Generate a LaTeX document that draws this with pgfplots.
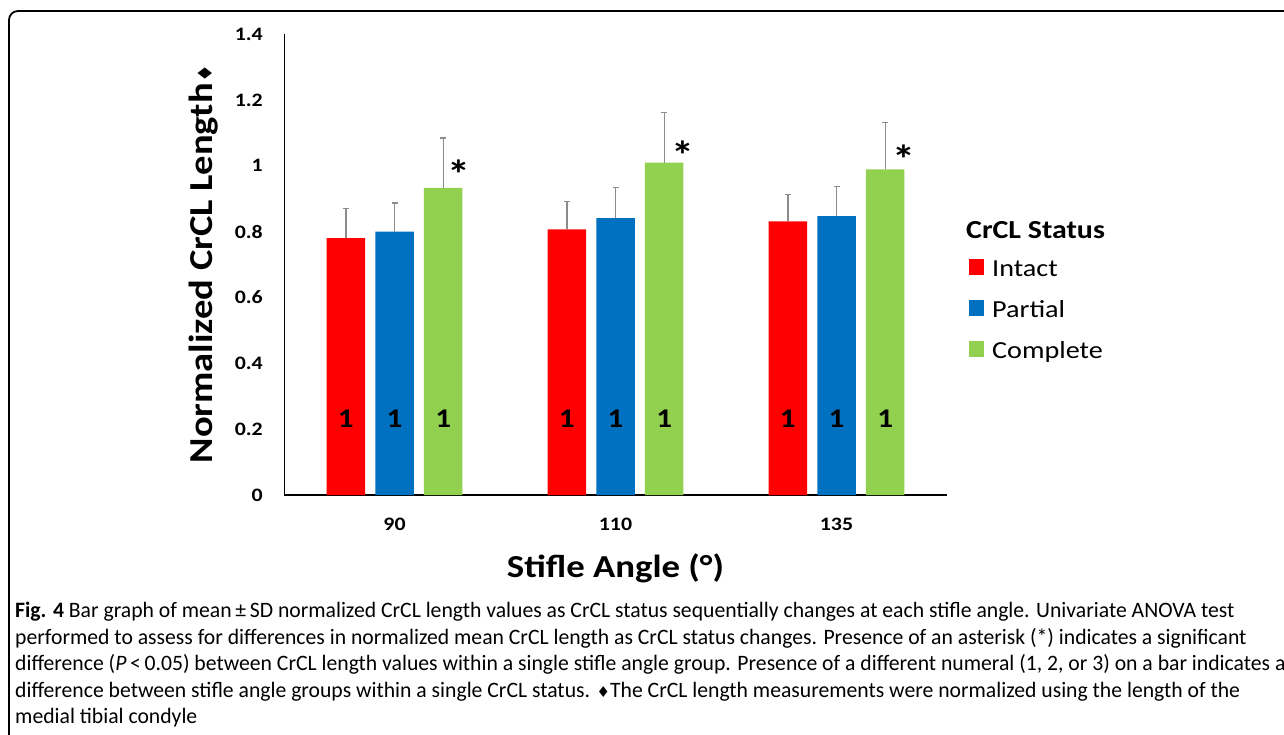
\documentclass[border=0pt]{standalone}
\usepackage{fontspec}
\setmainfont{Carlito}[FakeStretch=1.15]
\newfontfamily\capfont{Carlito}[FakeStretch=0.985]
\newfontfamily\symfont{DejaVu Sans}
\usepackage{pgfplots}
\usepackage{pgfplotstable}
\pgfplotsset{compat=1.18}
\definecolor{cred}{HTML}{FF0000}
\definecolor{cblue}{HTML}{0070C0}
\definecolor{cgreen}{HTML}{92D050}
\definecolor{errgray}{HTML}{8C8C8C}
\newcommand{\fs}[1]{\fontsize{#1}{#1}\selectfont}

\pgfplotstableread{
x y e
0 0.780 0.089
1 0.807 0.085
2 0.831 0.081
}\intact
\pgfplotstableread{
x y e
0 0.800 0.087
1 0.841 0.093
2 0.847 0.089
}\partial
\pgfplotstableread{
x y e
0 0.933 0.151
1 1.009 0.152
2 0.989 0.143
}\complete

\begin{document}
\begin{tikzpicture}[x=1pt,y=1pt]
\useasboundingbox (0,0) rectangle (1284,734);
\draw[line width=1.8pt, rounded corners=9pt] (9,-10) -- (9,723) -- (1300,723);
\begin{axis}[
  at={(284pt,239pt)}, anchor=south west,
  scale only axis, width=663pt, height=461pt,
  xmin=-0.5, xmax=2.5, ymin=0, ymax=1.4,
  ybar=10.2pt, bar width=38.5pt,
  axis x line*=bottom, axis y line*=left,
  axis line style={-},
  x axis line style={-, line width=1.4pt},
  y axis line style={-, line width=0.9pt},
  major tick length=0pt,
  xtick={0,1,2}, xticklabels={90,110,135},
  ytick={0,0.2,0.4,0.6,0.8,1,1.2,1.4},
  yticklabels={0,0.2,0.4,0.6,0.8,1,1.2,1.4},
  xticklabel style={anchor=north, inner sep=0pt, yshift=-23pt, font=\bfseries\fs{19}},
  yticklabel style={anchor=east, inner sep=0pt, xshift=-21pt, font=\bfseries\fs{19}},
  xlabel={Stifle Angle (°)},
  xlabel style={at={(axis description cs:0.5,-0.1779)}, anchor=base, font=\bfseries\fs{32}},
  ylabel={Normalized CrCL Length{\symfont\fs{20}♦}},
  ylabel style={at={(axis description cs:-0.1071,0.5007)}, anchor=base, font=\bfseries\fs{33.5}},
  clip=false,
  legend style={at={(axis description cs:1.0332,0.5416)}, anchor=north west, draw=none, fill=none, inner sep=0pt, row sep=7pt, font=\fontsize{24.5}{41}\selectfont, cells={anchor=west}},
  legend image code/.code={\fill[#1,draw=none] (0pt,-12pt) rectangle (15pt,4pt); \path (21pt,-12pt);},
]
\addplot[fill=cred, draw=none, error bars/.cd, y dir=plus, y explicit,
  error bar style={errgray, line width=1.4pt},
  error mark options={errgray, line width=1.2pt, mark size=3pt, rotate=90}]
  table[x=x, y=y, y error=e]{\intact};
\addplot[fill=cblue, draw=none, error bars/.cd, y dir=plus, y explicit,
  error bar style={errgray, line width=1.4pt},
  error mark options={errgray, line width=1.2pt, mark size=3pt, rotate=90}]
  table[x=x, y=y, y error=e]{\partial};
\addplot[fill=cgreen, draw=none, error bars/.cd, y dir=plus, y explicit,
  error bar style={errgray, line width=1.4pt},
  error mark options={errgray, line width=1.2pt, mark size=3pt, rotate=90}]
  table[x=x, y=y, y error=e]{\complete};
\legend{\strut Intact, \strut Partial, \strut Complete}

\node[font=\bfseries\fs{27}, xshift=-48.7pt] at (axis cs:0,0.2308) {1};
\node[font=\bfseries\fs{27}] at (axis cs:0,0.2308) {1};
\node[font=\bfseries\fs{27}, xshift=48.7pt] at (axis cs:0,0.2308) {1};
\node[font=\bfseries\fs{27}, xshift=-48.7pt] at (axis cs:1,0.2308) {1};
\node[font=\bfseries\fs{27}] at (axis cs:1,0.2308) {1};
\node[font=\bfseries\fs{27}, xshift=48.7pt] at (axis cs:1,0.2308) {1};
\node[font=\bfseries\fs{27}, xshift=-48.7pt] at (axis cs:2,0.2308) {1};
\node[font=\bfseries\fs{27}] at (axis cs:2,0.2308) {1};
\node[font=\bfseries\fs{27}, xshift=48.7pt] at (axis cs:2,0.2308) {1};

\node[anchor=base, font=\bfseries\fs{40}, yshift=-23pt] at (axis cs:0.292,1.0006) {*};
\node[anchor=base, font=\bfseries\fs{40}, yshift=-23pt] at (axis cs:1.305,1.059) {*};
\node[anchor=base, font=\bfseries\fs{40}, yshift=-23pt] at (axis cs:2.306,1.046) {*};
\end{axis}

\node[anchor=base west, font=\bfseries\fs{26}, inner sep=0pt] at (966,495) {CrCL Status};

\begin{scope}[every node/.style={anchor=base west, inner sep=0pt, font=\capfont\fs{22}}]
\node at (15,117) {{\bfseries Fig. 4} Bar graph of mean\,±\,SD normalized CrCL length values as CrCL status sequentially changes at each stifle angle. Univariate ANOVA test};
\node at (15,90) {performed to assess for differences in normalized mean CrCL length as CrCL status changes. Presence of an asterisk (*) indicates a significant};
\node at (15,64) {difference (\textit{P}\,<\,0.05) between CrCL length values within a single stifle angle group. Presence of a different numeral (1, 2, or 3) on a bar indicates a};
\node at (15,37) {difference between stifle angle groups within a single CrCL status. {\symfont\fs{15}♦}The CrCL length measurements were normalized using the length of the};
\node at (15,11) {medial tibial condyle};
\end{scope}
\end{tikzpicture}
\end{document}
